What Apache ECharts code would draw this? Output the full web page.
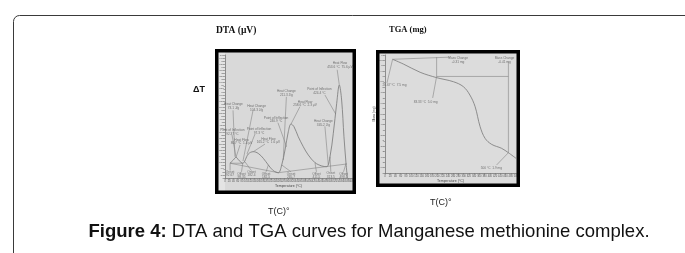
<!DOCTYPE html>
<html>
<head>
<meta charset="utf-8">
<script src="https://cdn.jsdelivr.net/npm/echarts@6/dist/echarts.min.js"></script>
<style>
html,body{margin:0;padding:0;background:#fff;}
#c{width:685px;height:253px;}
</style>
</head>
<body>
<div id="c"></div>
<script>
// ---------- DTA data (temperature °C, signal arbitrary units) ----------
const dtaCurveT = [23.6, 39, 52, 67.6, 83.6, 110, 133.7, 157, 181, 204.6, 228, 252, 268, 283.5, 299, 312, 326, 346, 370, 393.5, 425, 457, 480.5, 496, 511.7, 527.7, 540, 551, 562, 571.7, 578];
const dtaCurveV = [12, 14.6, 16.8, 14, 12, 19.5, 21.4, 20, 16, 10.6, 6, 4.3, 10.6, 22.8, 37.6, 43.9, 41.7, 33.6, 25.4, 18.7, 12.5, 9.8, 9.2, 17.3, 36.3, 60.7, 75.6, 63.4, 33.6, 12, 0];
const dtaBaseT = [23.6, 252, 575];
const dtaBaseV = [12, 4.3, 11.4];
const dtaPeak1BaseT = [23.6, 83.6];
const dtaPeak1BaseV = [12, 12];

// annotation labels: text, label position, leader from -> to
const dtaNoteText = [
  'Heat Flow\n453.6 °C  75.6 µV',
  'Point of Inflection\n424.4 °C',
  'Heat Change\n211.3 J/g',
  'Heat Flow\n258.6 °C  2.3 µV',
  'Point of Inflection\n240.9 °C',
  'Heat Change\n345.2 J/g',
  'Heat Change\n73.1 J/g',
  'Heat Change\n104.3 J/g',
  'Point of Inflection\n92.37 °C',
  'Point of Inflection\n97.3 °C',
  'Heat Flow\n80.7 °C  1.4 µV',
  'Heat Flow\n165.2 °C  1.6 µV',
  'Onset\n92.67',
  'Offset\n98.35',
  'Onset\n182.4',
  'Offset\n182.5',
  'Onset\n265.7',
  'Offset\n411.5',
  'Onset\n313.5',
  'Offset\n498.5'
];
const dtaNoteT = [543, 446, 290, 378, 241, 465, 40, 149, 35, 161, 78, 205, 24, 78, 125, 194, 312, 432, 500, 560];
const dtaNoteV = [92, 70.7, 69, 60.5, 47.5, 44.7, 58.5, 57, 37.4, 38.2, 29.7, 30.5, 3.5, 2, 3.5, 2, 2, 2, 2.5, 2];
const dtaLeadFromT = [530, 472, 290, 354, 250, 472, 38, 132, 33, 142, 71, 189, 24, 78, 125, 194, 312, 432, 500, 560];
const dtaLeadFromV = [88, 67.5, 66, 58, 45, 42, 55, 54.7, 35, 35.8, 26.8, 27.6, 6, 5, 6, 5, 5, 5, 5, 5];
const dtaLeadToT = [540, 523, 275, 312, 291, 488, 47, 85, 52, 104, 52, 134, 24, 84, 95, 205, 268, 425, 496, 572];
const dtaLeadToV = [75.6, 52, 14.6, 43.9, 25.4, 10.6, 17.3, 13.8, 17, 19.5, 16.8, 21.4, 12, 12, 13, 10.6, 10.6, 12.5, 17.3, 12];

// ---------- TGA data (temperature °C, mass mg) ----------
const tgaCurveT = [29, 70, 134, 197, 261, 299, 324, 344, 363, 382, 407, 445, 471, 500];
const tgaCurveM = [10.6, 10.16, 9.39, 8.89, 8.51, 8.05, 7.27, 6.18, 4.32, 3.23, 2.67, 2.30, 1.89, 1.37];

const tgaNoteText = ['26.67 °C  7.5 mg', 'Mass Change\n-0.31 mg', '83.33 °C  5.0 mg', 'Mass Change\n-0.41 mg', '500 °C  1.9 mg'];
const tgaNoteT = [36, 279, 155, 456, 406];
const tgaNoteM = [8.2, 10.5, 6.6, 10.5, 0.5];
// bracket / leader polylines
const tgaLeadT = [[7.6, 29], [29, 248], [197, 197, 182], [197, 471], [471, 471, 426]];
const tgaLeadM = [[8.4, 10.6], [10.6, 10.8], [10.8, 9.0, 7.0], [9.0, 9.0], [10.4, 1.89, 0.75]];

// ---------- axes ----------
const dtaXMin = 0, dtaXMax = 600, dtaXStep = 20;
const dtaYMin = 0, dtaYMax = 100, dtaYStep = 2.5;
const tgaXMin = 0, tgaXMax = 500, tgaXStep = 20;
const tgaYMin = 0, tgaYMax = 11, tgaYStep = 0.5;

const curveColor = '#777777';
const leadColor = '#858585';
const tiny = {fontSize: 3.2, lineHeight: 3.6, color: '#555', fontFamily: 'Liberation Sans'};

function zip(a, b) { return a.map((x, i) => [x, b[i]]); }

const series = [];
function line(data, gi, color, w) {
  series.push({type: 'line', xAxisIndex: gi, yAxisIndex: gi, data: data, symbol: 'none',
    smooth: 0.35, lineStyle: {color: color, width: w}, silent: true, animation: false, z: 3});
}
function straight(data, gi) {
  series.push({type: 'line', xAxisIndex: gi, yAxisIndex: gi, data: data, symbol: 'none',
    lineStyle: {color: leadColor, width: 0.6}, silent: true, animation: false, z: 2});
}
// DTA
line(zip(dtaCurveT, dtaCurveV), 0, curveColor, 0.8);
straight(zip(dtaBaseT, dtaBaseV), 0);
straight(zip(dtaPeak1BaseT, dtaPeak1BaseV), 0);
for (let i = 0; i < dtaNoteText.length; i++) {
  straight([[dtaLeadFromT[i], dtaLeadFromV[i]], [dtaLeadToT[i], dtaLeadToV[i]]], 0);
}
series.push({type: 'scatter', xAxisIndex: 0, yAxisIndex: 0, symbolSize: 0, silent: true, animation: false, z: 4,
  data: dtaNoteText.map((t, i) => ({name: t, value: [dtaNoteT[i], dtaNoteV[i]]})),
  label: Object.assign({show: true, position: 'inside', formatter: p => p.name}, tiny)});
// TGA
line(zip(tgaCurveT, tgaCurveM), 1, curveColor, 0.8);
for (let i = 0; i < tgaLeadT.length; i++) straight(zip(tgaLeadT[i], tgaLeadM[i]), 1);
series.push({type: 'scatter', xAxisIndex: 1, yAxisIndex: 1, symbolSize: 0, silent: true, animation: false, z: 4,
  data: tgaNoteText.map((t, i) => ({name: t, value: [tgaNoteT[i], tgaNoteM[i]]})),
  label: Object.assign({show: true, position: 'inside', formatter: p => p.name}, tiny)});

function xAx(gi, min, max, step) {
  return {type: 'value', gridIndex: gi, min: min, max: max, interval: step,
    name: 'Temperature (°C)', nameLocation: 'middle', nameGap: 6,
    nameTextStyle: {fontSize: 3.5, color: '#444', fontFamily: 'Liberation Sans'},
    axisLine: {show: true, lineStyle: {color: '#777', width: 0.8}},
    axisTick: {show: true, length: 1.5, lineStyle: {color: '#777', width: 0.6}},
    axisLabel: {show: true, fontSize: 2.6, color: '#555', margin: 1.5, showMaxLabel: true},
    splitLine: {show: false}};
}
function yAx(gi, min, max, step, name) {
  return {type: 'value', gridIndex: gi, min: min, max: max, interval: step,
    name: name, nameLocation: 'middle', nameGap: 5, nameRotate: 90,
    nameTextStyle: {fontSize: 3.2, color: '#444', fontFamily: 'Liberation Sans'},
    axisLine: {show: true, lineStyle: {color: '#777', width: 0.8}},
    axisTick: {show: true, length: 1.5, lineStyle: {color: '#777', width: 0.6}},
    axisLabel: {show: true, fontSize: 2.4, color: '#555', margin: 1.2},
    splitLine: {show: false}};
}

const chart = echarts.init(document.getElementById('c'), null, {renderer: 'canvas'});
chart.setOption({
  backgroundColor: '#ffffff',
  animation: false,
  grid: [
    {left: 225, top: 55, width: 127, height: 123, show: false},
    {left: 385, top: 55, width: 131, height: 118, show: false}
  ],
  xAxis: [xAx(0, dtaXMin, dtaXMax, dtaXStep), xAx(1, tgaXMin, tgaXMax, tgaXStep)],
  yAxis: [yAx(0, dtaYMin, dtaYMax, dtaYStep, ''), yAx(1, tgaYMin, tgaYMax, tgaYStep, 'Mass (mg)')],
  series: series,
  graphic: [
    // page box (only top/left edges visible)
    {type: 'rect', z: -20, shape: {x: 13.5, y: 15.5, width: 900, height: 400, r: 6},
      style: {fill: 'none', stroke: '#3a3a3a', lineWidth: 1}},
    // DTA panel
    {type: 'rect', z: -10, shape: {x: 217, y: 51, width: 137, height: 141}, style: {fill: '#d9d9d9'}},
    {type: 'rect', z: -9, shape: {x: 217, y: 51, width: 8, height: 141}, style: {fill: '#e4e4e4'}},
    {type: 'rect', z: 60, shape: {x: 216.75, y: 50.75, width: 137.5, height: 141.5},
      style: {fill: 'none', stroke: '#000', lineWidth: 3.5}},
    // TGA panel
    {type: 'rect', z: -10, shape: {x: 378, y: 52, width: 140, height: 133}, style: {fill: '#dcdcdc'}},
    {type: 'rect', z: 60, shape: {x: 377.75, y: 51.75, width: 140.5, height: 133.5},
      style: {fill: 'none', stroke: '#000', lineWidth: 3.5}},
    // titles
    {type: 'text', left: 216, top: 26, style: {text: 'DTA (µV)', font: 'bold 9.5px "Liberation Serif"', fill: '#111'}},
    {type: 'text', left: 389, top: 25, style: {text: 'TGA (mg)', font: 'bold 8.5px "Liberation Serif"', fill: '#111'}},
    {type: 'text', left: 193, top: 85, style: {text: 'ΔT', font: 'bold 9px "Liberation Sans"', fill: '#111'}},
    {type: 'text', left: 268, top: 207, style: {text: 'T(C)°', font: '9px "Liberation Sans"', fill: '#222'}},
    {type: 'text', left: 430, top: 198, style: {text: 'T(C)°', font: '9px "Liberation Sans"', fill: '#222'}},
    // caption
    {type: 'text', x: 369, y: 232, style: {
      text: '{b|Figure 4:} DTA and TGA curves for Manganese methionine complex.',
      align: 'center', verticalAlign: 'middle',
      font: '18.5px "Liberation Sans"', fill: '#111',
      rich: {b: {font: 'bold 18.5px "Liberation Sans"', fill: '#111'}}}}
  ]
});
</script>
</body>
</html>
